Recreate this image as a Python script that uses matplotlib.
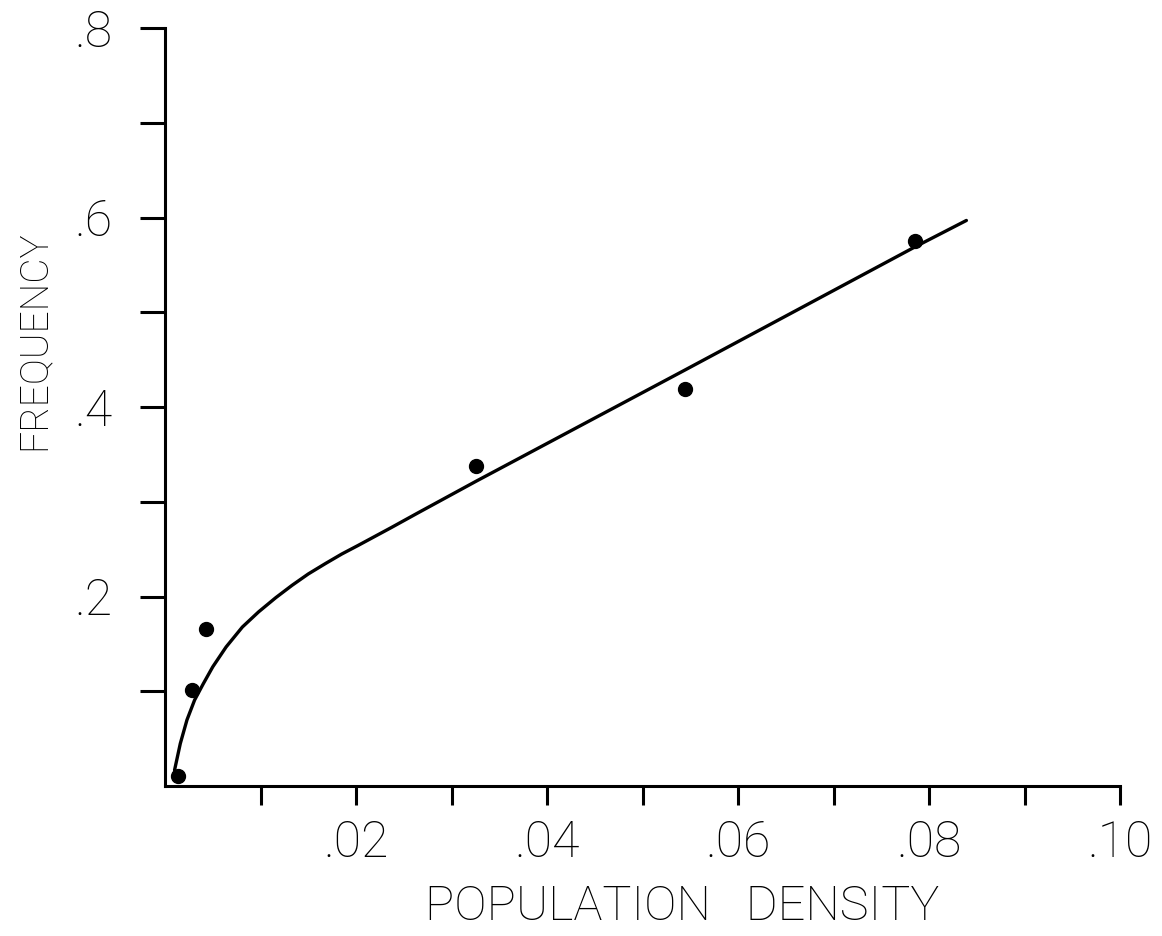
import matplotlib.pyplot as plt
import numpy as np

density = [0.0014, 0.0028, 0.0043, 0.0326, 0.0544, 0.0785]
frequency = [0.011, 0.102, 0.166, 0.338, 0.419, 0.575]

# fitted curve
curve_x = [0.0010, 0.0016, 0.0023, 0.0031, 0.0040, 0.0050, 0.0064, 0.0081,
           0.0098, 0.0116, 0.0133, 0.0150, 0.0168, 0.0185, 0.0202, 0.0237,
           0.0264, 0.0326, 0.0544, 0.0785, 0.0839]
curve_y = [0.017, 0.045, 0.070, 0.091, 0.108, 0.126, 0.147, 0.168,
           0.184, 0.199, 0.212, 0.224, 0.235, 0.245, 0.254, 0.273,
           0.288, 0.322, 0.439, 0.569, 0.597]

x_ticks = [0.01, 0.02, 0.03, 0.04, 0.05, 0.06, 0.07, 0.08, 0.09, 0.10]
x_labels = ['', '.02', '', '.04', '', '.06', '', '.08', '', '.10']
y_ticks = [0.1, 0.2, 0.3, 0.4, 0.5, 0.6, 0.7, 0.8]
y_labels = ['', '.2', '', '.4', '', '.6', '', '.8']

plt.rcParams['font.family'] = ['Roboto', 'DejaVu Sans']
plt.rcParams['font.weight'] = 'light'

fig = plt.figure(figsize=(11.62, 9.36), dpi=100)
ax = fig.add_axes([0.142, 0.160, 0.822, 0.810])

ax.plot(curve_x, curve_y, color='black', lw=2.4, solid_capstyle='round')
ax.plot(density, frequency, 'o', color='black', ms=10, clip_on=False)

ax.set_xlim(0, 0.10)
ax.set_ylim(0, 0.8)
ax.spines['right'].set_visible(False)
ax.spines['top'].set_visible(False)
for s in ('left', 'bottom'):
    ax.spines[s].set_linewidth(2.2)

ax.set_xticks(x_ticks)
ax.set_xticklabels(x_labels)
ax.set_yticks(y_ticks)
ax.set_yticklabels(y_labels)
ax.tick_params(axis='x', length=14, width=2.2, pad=10, labelsize=36, direction='out')
ax.tick_params(axis='y', length=18, width=2.2, pad=20, labelsize=36, direction='out')

ax.set_xlabel('POPULATION   DENSITY', fontsize=35, fontweight='light')
ax.xaxis.set_label_coords(0.541, -0.128)
ax.set_ylabel('FREQUENCY', fontsize=28, fontweight='light')
ax.yaxis.set_label_coords(-0.118, 0.588)

fig.savefig('out.png', dpi=100, facecolor='white')
